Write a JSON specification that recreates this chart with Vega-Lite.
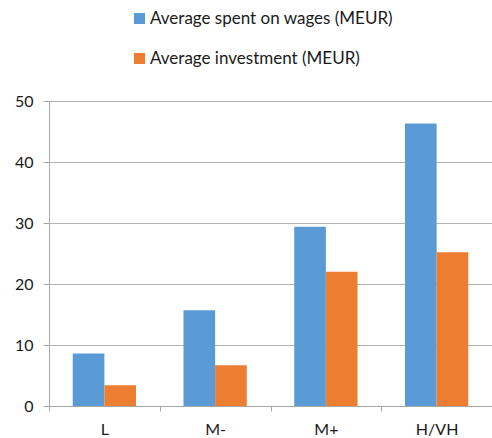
{
  "$schema": "https://vega.github.io/schema/vega-lite/v6.json",
  "width": 443,
  "height": 305,
  "autosize": "none",
  "padding": {"left": 49, "top": 101, "right": 0, "bottom": 32},
  "background": "white",
  "config": {
    "view": {"stroke": null},
    "font": "Lato",
    "axis": {"labelFont": "Lato", "labelFontSize": 16, "labelColor": "#1a1a1a"},
    "legend": {"labelFont": "Lato", "labelFontSize": 17, "labelColor": "#1a1a1a"}
  },
  "data": {
    "values": [
      {"category": "L", "series": "Average spent on wages (MEUR)", "value": 8.6},
      {"category": "L", "series": "Average investment (MEUR)", "value": 3.4},
      {"category": "M-", "series": "Average spent on wages (MEUR)", "value": 15.7},
      {"category": "M-", "series": "Average investment (MEUR)", "value": 6.7},
      {"category": "M+", "series": "Average spent on wages (MEUR)", "value": 29.4},
      {"category": "M+", "series": "Average investment (MEUR)", "value": 22.0},
      {"category": "H/VH", "series": "Average spent on wages (MEUR)", "value": 46.3},
      {"category": "H/VH", "series": "Average investment (MEUR)", "value": 25.2}
    ]
  },
  "mark": {"type": "bar"},
  "encoding": {
    "x": {
      "field": "category",
      "type": "nominal",
      "sort": ["L", "M-", "M+", "H/VH"],
      "scale": {"paddingInner": 0, "paddingOuter": 0},
      "axis": {
        "title": null,
        "labelAngle": 0,
        "tickBand": "extent",
        "tickSize": 5,
        "tickColor": "#a6a6a6",
        "domainColor": "#a6a6a6",
        "labelPadding": 10,
        "grid": false
      }
    },
    "xOffset": {
      "field": "series",
      "type": "nominal",
      "sort": ["Average spent on wages (MEUR)", "Average investment (MEUR)"],
      "scale": {"paddingInner": 0, "paddingOuter": 0.75}
    },
    "y": {
      "field": "value",
      "type": "quantitative",
      "scale": {"domain": [0, 50], "nice": false},
      "axis": {
        "title": null,
        "values": [0, 10, 20, 30, 40, 50],
        "tickSize": 6,
        "tickColor": "#a6a6a6",
        "domainColor": "#a6a6a6",
        "gridColor": "#b3b3b3",
        "labelPadding": 10
      }
    },
    "color": {
      "field": "series",
      "type": "nominal",
      "sort": ["Average spent on wages (MEUR)", "Average investment (MEUR)"],
      "scale": {"range": ["#5B9BD5", "#ED7D31"]},
      "legend": {
        "title": null,
        "orient": "none",
        "legendX": 82,
        "legendY": -91,
        "direction": "vertical",
        "symbolType": "square",
        "symbolSize": 121,
        "symbolStrokeWidth": 0,
        "symbolOpacity": 1,
        "labelOffset": 2,
        "rowPadding": 22,
        "padding": 0,
        "labelLimit": 400
      }
    }
  }
}
